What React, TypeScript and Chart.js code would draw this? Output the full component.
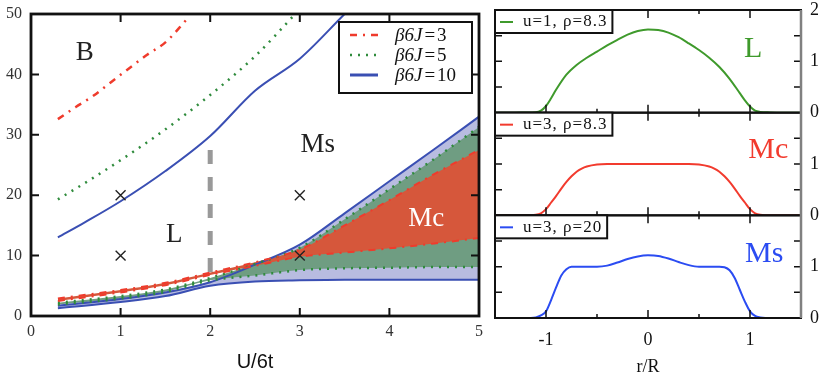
import React, { useEffect, useRef } from 'react';
import { Chart, registerables } from 'chart.js';

Chart.register(...registerables);

const SERIF = "'Liberation Serif', 'DejaVu Serif', serif";
const SANS = "'Liberation Sans', Arial, sans-serif";

// ---------- Left panel: phase diagram (U/6t vs rho) ----------
const uTicks = [0, 1, 2, 3, 4, 5];
const rhoTicks = [0, 10, 20, 30, 40, 50];

// upper (B) boundaries
const topU3 = [0.3, 0.5, 0.7, 0.9, 1.05, 1.3, 1.5, 1.75];
const topRho3 = [32.6, 34.6, 36.5, 38.8, 40.5, 43.3, 45.3, 49.3];
const topU5 = [0.3, 0.6, 1, 1.5, 2, 2.5, 2.95];
const topRho5 = [19.3, 22.0, 25.8, 30.9, 36.6, 43.0, 50.0];
const topU10 = [0.3, 0.6, 1, 1.5, 2, 2.5, 3, 3.5];
const topRho10 = [13.0, 15.5, 19.0, 24.0, 29.8, 37.3, 42.6, 50.0];

// lower bands (Mc region boundaries)
const bandU = [0.3, 1, 1.5, 2, 2.5, 3, 3.5, 4, 4.5, 5];
const redHi = [2.9, 4.3, 5.5, 7.2, 8.9, 11.0, 15.0, 19.2, 23.5, 27.5];
const redLo = [2.5, 3.9, 5.1, 6.8, 8.3, 9.8, 10.5, 11.2, 12.0, 12.9];
const greenHi = [2.2, 3.3, 4.4, 6.3, 8.6, 11.3, 16.0, 21.0, 26.0, 31.3];
const greenLo = [1.9, 2.9, 4.0, 5.9, 6.7, 7.6, 7.9, 8.0, 8.1, 8.1];
const blueHi = [1.7, 2.8, 3.9, 5.6, 8.5, 11.8, 17.0, 22.3, 27.6, 33.0];
const blueLo = [1.3, 2.3, 3.3, 5.0, 5.7, 5.9, 6.0, 6.0, 6.0, 6.0];

const crossU = [1, 1, 3, 3];
const crossRho = [10, 20, 10, 20];
const splitU = [2, 2];
const splitRho = [7.3, 27.5];

const phaseNames = ['B', 'L', 'Ms', 'Mc'];
const phaseU = [0.6, 1.6, 3.2, 4.41];
const phaseRho = [43.5, 13.4, 28.4, 16.1];

const legendValues = ['3', '5', '10'];

// ---------- Right panels: density profiles ----------
const profileLegends = ['u=1, ρ=8.3', 'u=3, ρ=8.3', 'u=3, ρ=20'];
const profileNames = ['L', 'Mc', 'Ms'];
const profileNameX = [1.03, 1.18, 1.14];
const profileNameY = [1.24, 1.27, 1.24];

const lX = [-1.5, -1.3, -1.2, -1.1, -1.05, -1.0, -0.95, -0.9, -0.8, -0.7, -0.6, -0.5, -0.4, -0.3, -0.2, -0.1, 0, 0.1, 0.2, 0.3, 0.4, 0.5, 0.6, 0.7, 0.8, 0.9, 0.95, 1.0, 1.05, 1.1, 1.2, 1.3, 1.5];
const lY = [0, 0, 0.005, 0.01, 0.04, 0.13, 0.28, 0.45, 0.74, 0.93, 1.07, 1.19, 1.31, 1.42, 1.52, 1.59, 1.62, 1.61, 1.56, 1.47, 1.35, 1.22, 1.07, 0.89, 0.66, 0.38, 0.24, 0.12, 0.04, 0.015, 0.005, 0, 0];

const mcX = [-1.5, -1.2, -1.1, -1.05, -1.0, -0.95, -0.9, -0.85, -0.8, -0.75, -0.7, -0.65, -0.6, -0.5, -0.4, 0, 0.4, 0.5, 0.6, 0.65, 0.7, 0.75, 0.8, 0.85, 0.9, 0.95, 1.0, 1.05, 1.1, 1.2, 1.5];
const mcY = [0, 0, 0.01, 0.04, 0.12, 0.25, 0.38, 0.52, 0.65, 0.76, 0.85, 0.91, 0.95, 0.99, 1.0, 1.0, 1.0, 0.99, 0.95, 0.91, 0.85, 0.76, 0.65, 0.52, 0.38, 0.25, 0.12, 0.04, 0.01, 0, 0];

const msX = [-1.5, -1.15, -1.1, -1.05, -1.0, -0.95, -0.9, -0.85, -0.8, -0.75, -0.6, -0.5, -0.4, -0.3, -0.2, -0.1, 0, 0.1, 0.2, 0.3, 0.4, 0.5, 0.6, 0.7, 0.75, 0.8, 0.85, 0.9, 0.95, 1.0, 1.05, 1.1, 1.15, 1.5];
const msY = [0, 0, 0.01, 0.05, 0.13, 0.35, 0.6, 0.83, 0.95, 1.0, 1.0, 1.0, 1.02, 1.08, 1.15, 1.2, 1.22, 1.21, 1.16, 1.09, 1.03, 1.0, 1.0, 1.0, 0.99, 0.93, 0.78, 0.55, 0.32, 0.13, 0.04, 0.01, 0, 0];

// ---------- styles ----------
const RED = '#ef3b2c';
const GREEN = '#2f8b3c';
const BLUE = '#3a4fb3';
const RED_FILL = '#d6573b';
const GREEN_FILL = '#6f9d82';
const BLUE_FILL = '#b8bce0';
const DASH3 = [7, 6, 2, 6];
const DASH5 = [2, 6];
const legendStyles = [
  { color: RED, dash: DASH3, width: 2.5 },
  { color: GREEN, dash: DASH5, width: 2.5 },
  { color: BLUE, dash: [], width: 3 },
];
const profileColors = ['#3f9a2c', '#f23b2e', '#2b4cf2'];

const pts = (xs: number[], ys: number[]) => xs.map((x, i) => ({ x, y: ys[i] }));

const noPad = (s: any) => {
  s.paddingLeft = 0;
  s.paddingRight = 0;
  s.paddingTop = 0;
  s.paddingBottom = 0;
};

const leftDecor = {
  id: 'leftDecor',
  afterDatasetsDraw(chart: any) {
    const { ctx, chartArea: a, scales } = chart;
    const x = scales.x;
    const y = scales.y;
    ctx.save();
    ctx.textAlign = 'center';
    ctx.textBaseline = 'middle';
    ctx.font = `27px ${SERIF}`;
    phaseNames.forEach((t, i) => {
      ctx.fillStyle = t === 'Mc' ? '#ffffff' : '#222';
      ctx.fillText(t, x.getPixelForValue(phaseU[i]), y.getPixelForValue(phaseRho[i]));
    });
    ctx.strokeStyle = '#111';
    ctx.lineWidth = 2;
    ctx.beginPath();
    uTicks.slice(1, -1).forEach((v) => {
      const px = x.getPixelForValue(v);
      ctx.moveTo(px, a.bottom);
      ctx.lineTo(px, a.bottom - 8);
      ctx.moveTo(px, a.top);
      ctx.lineTo(px, a.top + 8);
    });
    rhoTicks.slice(1, -1).forEach((v) => {
      const py = y.getPixelForValue(v);
      ctx.moveTo(a.left, py);
      ctx.lineTo(a.left + 8, py);
      ctx.moveTo(a.right, py);
      ctx.lineTo(a.right - 8, py);
    });
    ctx.stroke();
    ctx.lineWidth = 2.8;
    ctx.strokeRect(a.left, a.top, a.right - a.left, a.bottom - a.top);

    // legend
    const bx = a.right - 140;
    const by = a.top + 8;
    ctx.fillStyle = '#fff';
    ctx.fillRect(bx, by, 133, 71);
    ctx.lineWidth = 2;
    ctx.strokeStyle = '#111';
    ctx.strokeRect(bx, by, 133, 71);
    legendValues.forEach((val, i) => {
      const st = legendStyles[i];
      const ly = by + 13 + i * 20;
      ctx.save();
      ctx.strokeStyle = st.color;
      ctx.lineWidth = st.width;
      ctx.setLineDash(st.dash);
      ctx.beginPath();
      ctx.moveTo(bx + 11, ly);
      ctx.lineTo(bx + 39, ly);
      ctx.stroke();
      ctx.restore();
      ctx.fillStyle = '#111';
      ctx.textAlign = 'left';
      ctx.font = `italic 19px ${SERIF}`;
      let tx = bx + 56;
      ctx.fillText('β6J', tx, ly + 1);
      tx += ctx.measureText('β6J').width + 2;
      ctx.font = `19px ${SERIF}`;
      ctx.fillText('=', tx, ly + 1);
      tx += ctx.measureText('=').width + 2;
      ctx.fillText(val, tx, ly + 1);
    });
    ctx.restore();
  },
};

function makeLeft(canvas: HTMLCanvasElement) {
  const tickFont = { family: SERIF, size: 16 };
  const line = (data: any, color: string, dash: number[], width: number, extra: any = {}) => ({
    data,
    borderColor: color,
    backgroundColor: color,
    borderDash: dash,
    borderWidth: width,
    pointRadius: 0,
    cubicInterpolationMode: 'monotone',
    fill: false,
    ...extra,
  });
  return new Chart(canvas, {
    type: 'line',
    data: {
      datasets: [
        {
          data: pts(crossU, crossRho),
          showLine: false,
          pointStyle: 'crossRot',
          pointRadius: 7,
          pointBorderWidth: 1.4,
          borderColor: '#222',
          backgroundColor: '#222',
        },
        line(pts(splitU, splitRho), '#999999', [14, 13], 5, { cubicInterpolationMode: 'default', borderCapStyle: 'butt' }),
        line(pts(topU3, topRho3), RED, DASH3, 2.5),
        line(pts(topU5, topRho5), GREEN, DASH5, 2.5),
        line(pts(topU10, topRho10), BLUE, [], 2),
        line(pts(bandU, redHi), RED, DASH3, 2, { fill: '+1', backgroundColor: RED_FILL }),
        line(pts(bandU, redLo), RED, DASH3, 2),
        line(pts(bandU, greenHi), GREEN, DASH5, 2.5, { fill: '+1', backgroundColor: GREEN_FILL }),
        line(pts(bandU, greenLo), GREEN, DASH5, 2.5),
        line(pts(bandU, blueHi), BLUE, [], 2, { fill: '+1', backgroundColor: BLUE_FILL }),
        line(pts(bandU, blueLo), BLUE, [], 2),
      ] as any,
    },
    options: {
      animation: false,
      responsive: false,
      maintainAspectRatio: false,
      layout: { autoPadding: false, padding: { left: 0, top: 14, right: 4, bottom: 0 } },
      plugins: {
        legend: { display: false },
        tooltip: { enabled: false },
        filler: { drawTime: 'beforeDatasetsDraw' },
      } as any,
      scales: {
        x: {
          type: 'linear',
          min: 0,
          max: 5,
          ticks: { stepSize: 1, font: tickFont, color: '#333', padding: 6 },
          grid: { display: false, drawTicks: false },
          border: { display: false },
          title: {
            display: true,
            text: 'U/6t',
            font: { family: SANS, size: 20 },
            color: '#111',
            padding: { top: 0, bottom: 5 },
          },
          afterFit: (s: any) => {
            s.height = 63;
            noPad(s);
          },
        },
        y: {
          type: 'linear',
          min: 0,
          max: 50,
          ticks: { stepSize: 10, font: tickFont, color: '#333', padding: 9 },
          grid: { display: false, drawTicks: false },
          border: { display: false },
          afterFit: (s: any) => {
            s.width = 31;
            noPad(s);
          },
        },
      },
    } as any,
    plugins: [leftDecor],
  });
}

const rightDecor = {
  id: 'rightDecor',
  afterDatasetsDraw(chart: any) {
    const { ctx, chartArea: a, scales } = chart;
    const x = scales.x;
    ctx.save();
    ['y1', 'y2', 'y3'].forEach((id, i) => {
      const s = scales[id];
      const top = s.top;
      const bot = s.bottom;
      ctx.strokeStyle = '#111';
      ctx.lineWidth = 1.5;
      ctx.beginPath();
      [-1, -0.5, 0, 0.5, 1].forEach((v) => {
        const px = x.getPixelForValue(v);
        const L = Number.isInteger(v) ? 8 : 4;
        ctx.moveTo(px, bot);
        ctx.lineTo(px, bot - L);
        ctx.moveTo(px, top);
        ctx.lineTo(px, top + L);
      });
      [0.5, 1, 1.5].forEach((v) => {
        const py = s.getPixelForValue(v);
        ctx.moveTo(a.left, py);
        ctx.lineTo(a.left + 7, py);
        ctx.moveTo(a.right, py);
        ctx.lineTo(a.right - 7, py);
      });
      ctx.stroke();
      ctx.lineWidth = 2;
      ctx.strokeRect(a.left, top, a.right - a.left, bot - top);

      // legend box
      ctx.font = `17px ${SERIF}`;
      (ctx as any).letterSpacing = '1px';
      const tw = ctx.measureText(profileLegends[i]).width;
      const bw = 33 + tw;
      ctx.fillStyle = '#fff';
      ctx.fillRect(a.left, top, bw, 23);
      ctx.strokeStyle = '#111';
      ctx.lineWidth = 2;
      ctx.strokeRect(a.left, top, bw, 23);
      ctx.strokeStyle = profileColors[i];
      ctx.lineWidth = 2;
      ctx.beginPath();
      ctx.moveTo(a.left + 5, top + 12);
      ctx.lineTo(a.left + 18, top + 12);
      ctx.stroke();
      ctx.fillStyle = '#111';
      ctx.textAlign = 'left';
      ctx.textBaseline = 'middle';
      ctx.fillText(profileLegends[i], a.left + 28, top + 12);
      (ctx as any).letterSpacing = '0px';

      // phase name
      ctx.font = `30px ${SERIF}`;
      ctx.textAlign = 'center';
      ctx.fillStyle = profileColors[i];
      ctx.fillText(profileNames[i], x.getPixelForValue(profileNameX[i]), s.getPixelForValue(profileNameY[i]));
    });
    ctx.strokeStyle = '#808080';
    ctx.lineWidth = 2.5;
    ctx.beginPath();
    ctx.moveTo(a.right, a.top);
    ctx.lineTo(a.right, a.bottom);
    ctx.stroke();
    ctx.restore();
  },
};

function makeRight(canvas: HTMLCanvasElement) {
  const tickFont = { family: SERIF, size: 18 };
  const yAxis = (hideTop: boolean) => ({
    type: 'linear',
    position: 'right',
    stack: 'profiles',
    stackWeight: 1,
    min: 0,
    max: 2,
    ticks: {
      stepSize: 1,
      font: tickFont,
      color: '#111',
      padding: 9,
      callback: (v: number) => (hideTop && v === 2 ? '' : String(v)),
    },
    grid: { display: false, drawTicks: false },
    border: { display: false },
    afterFit: (s: any) => {
      s.width = 29;
      noPad(s);
    },
  });
  const prof = (xs: number[], ys: number[], color: string, axis: string) => ({
    data: pts(xs, ys),
    yAxisID: axis,
    borderColor: color,
    backgroundColor: color,
    borderWidth: 2,
    pointRadius: 0,
    cubicInterpolationMode: 'monotone',
    fill: false,
  });
  return new Chart(canvas, {
    type: 'line',
    data: {
      datasets: [
        prof(lX, lY, profileColors[0], 'y1'),
        prof(mcX, mcY, profileColors[1], 'y2'),
        prof(msX, msY, profileColors[2], 'y3'),
      ] as any,
    },
    options: {
      animation: false,
      responsive: false,
      maintainAspectRatio: false,
      layout: { autoPadding: false, padding: { left: 15, top: 10, right: 0, bottom: 0 } },
      plugins: { legend: { display: false }, tooltip: { enabled: false } },
      scales: {
        x: {
          type: 'linear',
          min: -1.5,
          max: 1.5,
          ticks: {
            stepSize: 0.5,
            font: tickFont,
            color: '#111',
            padding: 11,
            callback: (v: number) => (Number.isInteger(v) && Math.abs(v) <= 1 ? String(v) : ''),
          },
          grid: { display: false, drawTicks: false },
          border: { display: false },
          title: {
            display: true,
            text: 'r/R',
            font: { family: SERIF, size: 18 },
            color: '#111',
            padding: { top: 0, bottom: 1 },
          },
          afterFit: (s: any) => {
            s.height = 61;
            noPad(s);
          },
        },
        y1: yAxis(false),
        y2: yAxis(true),
        y3: yAxis(true),
      },
    } as any,
    plugins: [rightDecor],
  });
}

export default function App() {
  const leftRef = useRef<HTMLCanvasElement>(null);
  const rightRef = useRef<HTMLCanvasElement>(null);
  useEffect(() => {
    const a = makeLeft(leftRef.current!);
    const b = makeRight(rightRef.current!);
    return () => {
      a.destroy();
      b.destroy();
    };
  }, []);
  return (
    <div style={{ position: 'absolute', left: 0, top: 0, width: 830, height: 379, background: '#fff', overflow: 'hidden' }}>
      <canvas ref={leftRef} width={483} height={379} style={{ position: 'absolute', left: 0, top: 0, width: 483, height: 379 }} />
      <canvas ref={rightRef} width={350} height={379} style={{ position: 'absolute', left: 480, top: 0, width: 350, height: 379 }} />
    </div>
  );
}
